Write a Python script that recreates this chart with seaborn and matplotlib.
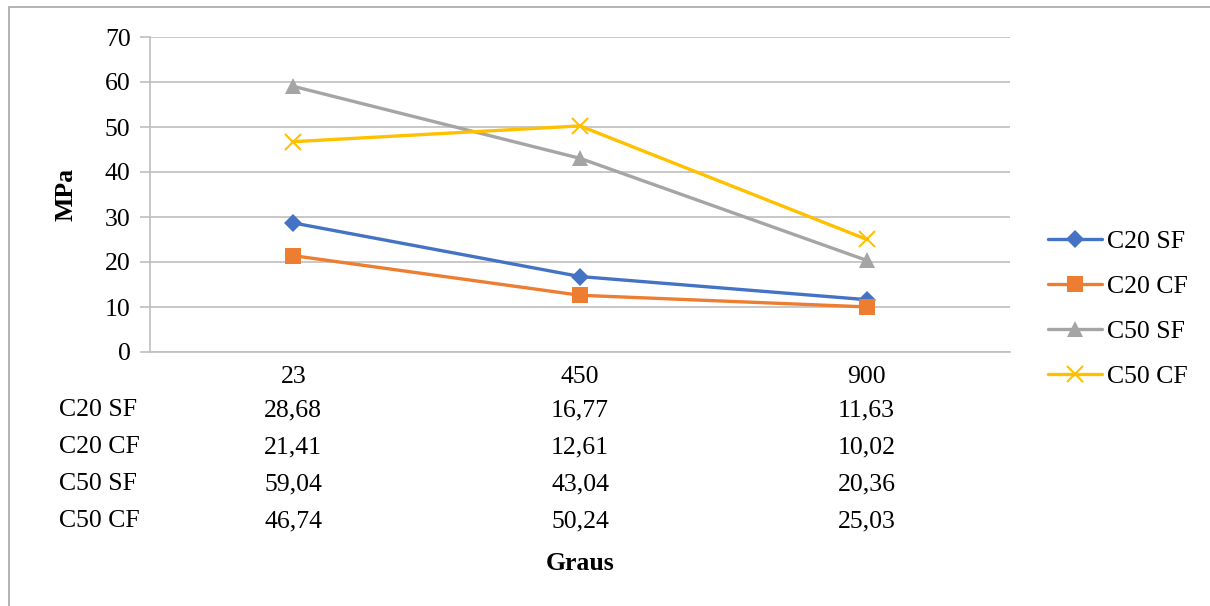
import matplotlib
matplotlib.use("Agg")
import matplotlib.pyplot as plt
import seaborn as sns
import pandas as pd
from matplotlib.patches import Rectangle
from matplotlib.lines import Line2D
from matplotlib.transforms import blended_transform_factory

categories = ["23", "450", "900"]
c20_sf = [28.68, 16.77, 11.63]
c20_cf = [21.41, 12.61, 10.02]
c50_sf = [59.04, 43.04, 20.36]
c50_cf = [46.74, 50.24, 25.03]
series_names = ["C20 SF", "C20 CF", "C50 SF", "C50 CF"]

sns.set_theme(style="white")
plt.rcParams["font.family"] = ["Liberation Serif", "DejaVu Serif"]
plt.rcParams["text.color"] = "black"
plt.rcParams["xtick.color"] = "black"
plt.rcParams["ytick.color"] = "black"
plt.rcParams["axes.labelcolor"] = "black"

FS = 18.5
W, H = 1210, 606
fig = plt.figure(figsize=(W / 100, H / 100), dpi=100)
ax = fig.add_axes([150 / W, 1 - 352 / H, (1010 - 150) / W, (352 - 37) / H])

series = [c20_sf, c20_cf, c50_sf, c50_cf]
rows = []
for name, vals in zip(series_names, series):
    for c, v in zip(categories, vals):
        rows.append({"Graus": c, "MPa": v, "serie": name})
df = pd.DataFrame(rows)

colors = ["#4472C4", "#ED7D31", "#A5A5A5", "#FFC000"]
markers = ["D", "s", "^", "x"]
msizes = [9, 11, 11, 12]
for name, col, mk, ms in zip(series_names, colors, markers, msizes):
    sub = df[df["serie"] == name]
    sns.lineplot(data=sub, x="Graus", y="MPa", ax=ax, color=col, lw=2.4,
                 marker=mk, markersize=ms, markeredgecolor=col,
                 markeredgewidth=1.5 if mk == "x" else 0, sort=False, legend=False)

ax.set_xlim(-0.5, 2.5)
ax.set_ylim(0, 70)
ax.set_yticks(range(0, 71, 10))
ax.grid(axis="y", color="#BFBFBF", lw=1.2)
ax.set_axisbelow(True)
for s in ["top", "right"]:
    ax.spines[s].set_visible(False)
ax.spines["left"].set_color("#BFBFBF")
ax.spines["bottom"].set_color("#BFBFBF")
ax.spines["left"].set_linewidth(1.2)
ax.spines["bottom"].set_linewidth(1.2)
ax.tick_params(axis="y", left=True, length=7, color="#BFBFBF", width=1.2,
               labelsize=FS, pad=7, labelcolor="black")
ax.tick_params(axis="x", bottom=False, labelsize=FS, pad=4, labelcolor="black")
ax.set_xlabel("")
ax.set_ylabel("MPa", fontsize=FS, fontweight="bold", labelpad=20, color="black")

# data table
trans = blended_transform_factory(ax.transData, fig.transFigure)
row_y = [410, 447, 484, 521]
for name, vals, y in zip(series_names, series, row_y):
    fy = 1 - y / H
    fig.text(59 / W, fy, name, fontsize=FS, va="center", ha="left", color="black")
    for i, v in enumerate(vals):
        ax.text(i, fy, f"{v:.2f}".replace(".", ","), transform=trans,
                fontsize=FS, va="center", ha="center", color="black")
fig.text(580 / W, 1 - 563 / H, "Graus", fontsize=FS, fontweight="bold",
         ha="center", va="center", color="black")

# legend
handles = [Line2D([0], [0], color=c, lw=2.4, marker=m, markersize=ms,
                  markeredgecolor=c, markeredgewidth=1.5 if m == "x" else 0)
           for c, m, ms in zip(colors, markers, msizes)]
fig.legend(handles, series_names, loc="center left",
           bbox_to_anchor=(1048 / W, 1 - 309 / H), frameon=False,
           fontsize=FS, handlelength=2.1, handletextpad=0.2,
           labelspacing=0.85, borderaxespad=0, borderpad=0)

fig.patches.append(Rectangle((9 / W, -0.1), 1.2, 1 - 7 / H + 0.1,
                             transform=fig.transFigure, fill=False,
                             edgecolor="#A6A6A6", lw=1.2))

fig.savefig("out.png", dpi=100)
